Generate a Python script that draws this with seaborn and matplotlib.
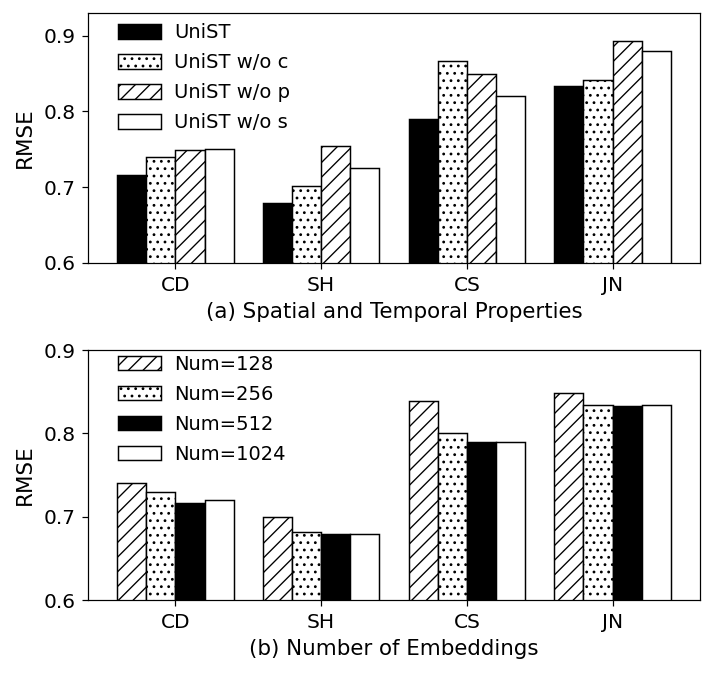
import matplotlib
matplotlib.use("Agg")
import matplotlib.pyplot as plt
import seaborn as sns
import pandas as pd

cities = ["CD", "SH", "CS", "JN"]

# (a) Spatial and Temporal Properties
labels_a = ["UniST", "UniST w/o c", "UniST w/o p", "UniST w/o s"]
unist = [0.716, 0.679, 0.790, 0.833]
wo_c = [0.740, 0.701, 0.867, 0.842]
wo_p = [0.749, 0.754, 0.850, 0.893]
wo_s = [0.751, 0.725, 0.820, 0.880]

# (b) Number of Embeddings
labels_b = ["Num=128", "Num=256", "Num=512", "Num=1024"]
num128 = [0.741, 0.700, 0.839, 0.848]
num256 = [0.730, 0.682, 0.800, 0.834]
num512 = [0.716, 0.679, 0.790, 0.833]
num1024 = [0.720, 0.679, 0.790, 0.834]

styles_a = {"UniST": ("black", ""), "UniST w/o c": ("white", ".."),
            "UniST w/o p": ("white", "//"), "UniST w/o s": ("white", "")}
styles_b = {"Num=128": ("white", "//"), "Num=256": ("white", ".."),
            "Num=512": ("black", ""), "Num=1024": ("white", "")}

def long_df(labels, series):
    rows = []
    for lab, vals in zip(labels, series):
        for c, v in zip(cities, vals):
            rows.append({"city": c, "model": lab, "rmse": v})
    return pd.DataFrame(rows)

sns.set_style("ticks")
plt.rcParams["font.family"] = ["DejaVu Sans"]
plt.rcParams["text.color"] = "black"
plt.rcParams["axes.labelcolor"] = "black"
plt.rcParams["xtick.color"] = "black"
plt.rcParams["ytick.color"] = "black"
plt.rcParams["hatch.linewidth"] = 1.1

DPI = 88
fig = plt.figure(figsize=(706/DPI, 675/DPI), dpi=DPI)
ax1 = fig.add_axes([88/706, 1-263/675, 612/706, 250/675])
ax2 = fig.add_axes([88/706, 1-600/675, 612/706, 250/675])

def draw(ax, labels, series, styles, xlabel, ylim, yticks, legend_y):
    df = long_df(labels, series)
    pal = {k: v[0] for k, v in styles.items()}
    sns.barplot(data=df, x="city", y="rmse", hue="model", order=cities,
                hue_order=labels, palette=pal, saturation=1, edgecolor="black",
                linewidth=1.2, width=0.8, ax=ax, legend=False)
    for lab, cont in zip(labels, ax.containers):
        for p in cont:
            p.set_hatch(styles[lab][1])
            p.set_edgecolor("black")
    handles = [cont.patches[0] for cont in ax.containers]
    ax.legend(handles, labels, loc="upper left", bbox_to_anchor=(0.037, legend_y),
              borderaxespad=0, frameon=False, fontsize=16,
              handlelength=2.2, handleheight=0.75, labelspacing=0.56,
              handletextpad=0.65)
    ax.set_ylim(*ylim)
    ax.set_yticks(yticks)
    ax.set_yticklabels([f"{t:.1f}" for t in yticks])
    ax.set_xlim(-0.6, 3.6)
    ax.set_xlabel(xlabel, fontsize=17.5, labelpad=6)
    ax.set_ylabel("RMSE", fontsize=17.5, labelpad=7)
    ax.tick_params(labelsize=16.5, width=1, length=4.9, pad=5.5)
    for s in ax.spines.values():
        s.set_visible(True)
        s.set_linewidth(1.0)
        s.set_color("black")

draw(ax1, labels_a, [unist, wo_c, wo_p, wo_s], styles_a,
     "(a) Spatial and Temporal Properties", (0.6, 0.93), [0.6, 0.7, 0.8, 0.9], 0.99)
draw(ax2, labels_b, [num128, num256, num512, num1024], styles_b,
     "(b) Number of Embeddings", (0.6, 0.9), [0.6, 0.7, 0.8, 0.9], 1.012)

fig.savefig("out.png", dpi=DPI)
